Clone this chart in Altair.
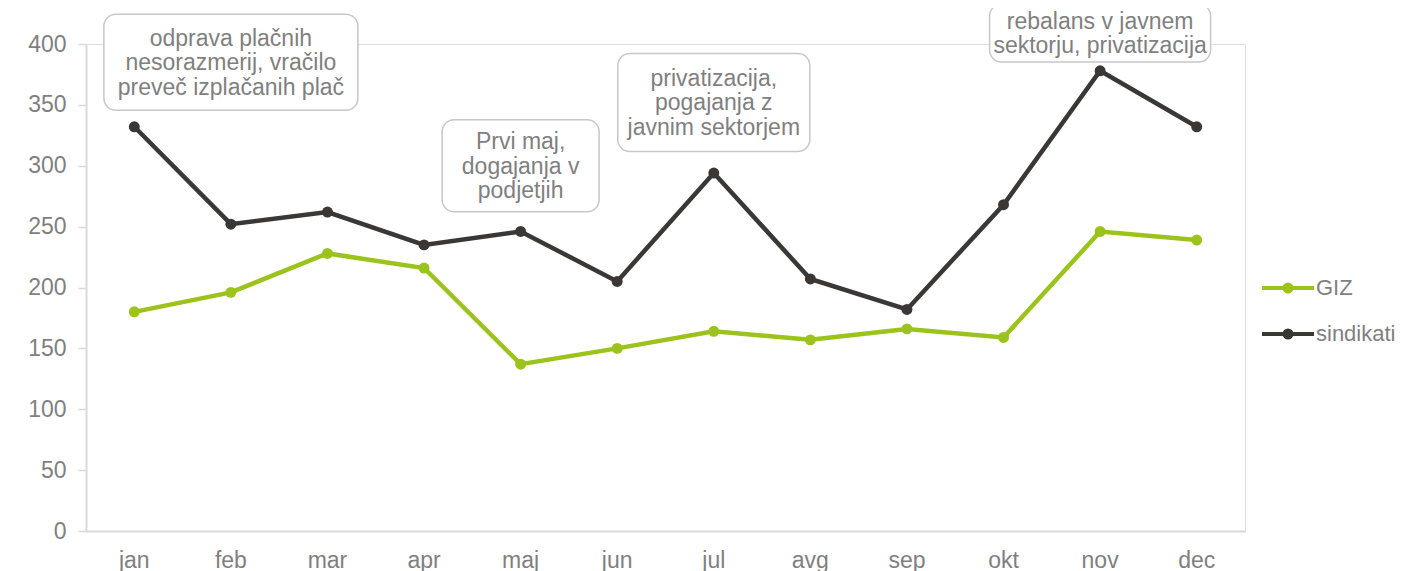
import altair as alt
import pandas as pd

months = ["jan", "feb", "mar", "apr", "maj", "jun", "jul", "avg", "sep", "okt", "nov", "dec"]
giz = [180, 196, 228, 216, 137, 150, 164, 157, 166, 159, 246, 239]
sindikati = [332, 252, 262, 235, 246, 205, 294, 207, 182, 268, 378, 332]
series_names = ["GIZ", "sindikati"]
series_colors = ["#9bc31c", "#3b3735"]

ann_month = ["feb", "maj", "jul", "nov"]
ann_value = [385, 300, 352, 409]
ann_text = [
    ["odprava plačnih", "nesorazmerij, vračilo", "preveč izplačanih plač"],
    ["Prvi maj,", "dogajanja v", "podjetjih"],
    ["privatizacija,", "pogajanja z", "javnim sektorjem"],
    ["rebalans v javnem", "sektorju, privatizacija"],
]
# box sizes in pixels (style)
box_w = [254, 157, 192, 221]
box_h = [96, 92, 98, 58]

rows = []
for m, g, s in zip(months, giz, sindikati):
    rows.append({"mesec": m, "serija": "GIZ", "vrednost": g})
    rows.append({"mesec": m, "serija": "sindikati", "vrednost": s})
df = pd.DataFrame(rows)

FONT = "Liberation Sans"
GRAY = "#7f7f7f"
FS = 23
LH = 24.5

xscale = alt.Scale(type="band", paddingInner=0, paddingOuter=0)

x_enc = alt.X("mesec:N", sort=months, scale=xscale, axis=alt.Axis(
    title=None, labelAngle=0, ticks=False, labelPadding=18, labelFontSize=FS,
    labelColor=GRAY, labelFont=FONT, domainColor="#d9d9d9", domainWidth=2))
y_enc = alt.Y("vrednost:Q", scale=alt.Scale(domain=[0, 400], nice=False), axis=alt.Axis(
    title=None, values=list(range(0, 401, 50)), grid=False, tickSize=8, tickColor="#d9d9d9",
    tickWidth=1.5, labelPadding=12, labelFontSize=FS, labelColor=GRAY, labelFont=FONT,
    domainColor="#d9d9d9", domainWidth=2))

legend_path = "M-2.6,0L2.6,0M-0.35,0A0.35,0.35,0,1,0,0.35,0A0.35,0.35,0,1,0,-0.35,0"
color_scale = alt.Scale(domain=series_names, range=series_colors)
color_enc = alt.Color("serija:N", scale=color_scale,
    legend=alt.Legend(title=None, orient="none", legendX=1190, legendY=232,
                      symbolType=legend_path, symbolSize=400, symbolStrokeWidth=4,
                      labelOffset=16, rowPadding=22, labelFontSize=22, labelColor=GRAY,
                      labelFont=FONT, padding=0))

base = alt.Chart(df)
lines = base.mark_line(strokeWidth=4.5).encode(x=x_enc, y=y_enc, color=color_enc)
points = base.mark_point(filled=True, opacity=1, size=120).encode(
    x=x_enc, y=y_enc, color=alt.Color("serija:N", scale=color_scale, legend=None))

layers = [lines, points]
for i in range(len(ann_month)):
    adf = pd.DataFrame({"mesec": [ann_month[i]], "vrednost": [ann_value[i]], "besedilo": [ann_text[i]]})
    ax = alt.X("mesec:N", sort=months, scale=xscale)
    box = alt.Chart(adf).mark_rect(width=box_w[i], height=box_h[i], fill="white",
                                   stroke="#c8c8c8", strokeWidth=1.5, cornerRadius=12).encode(
        x=ax, y="vrednost:Q")
    n = len(ann_text[i])
    txt = alt.Chart(adf).mark_text(fontSize=FS, font=FONT, color=GRAY, lineHeight=LH,
                                   align="center", baseline="middle",
                                   dy=-(n - 1) * LH / 2 + 1).encode(
        x=ax, y="vrednost:Q", text="besedilo")
    layers += [box, txt]

chart = alt.layer(*layers).properties(
    width=1159, height=487,
    autosize=alt.AutoSizeParams(type="none"),
    padding={"left": 78, "top": 36, "right": 153, "bottom": 40},
).configure_view(strokeWidth=0).configure(background="white")

chart.save("out.html", embed_options={"renderer": "svg", "actions": False})
